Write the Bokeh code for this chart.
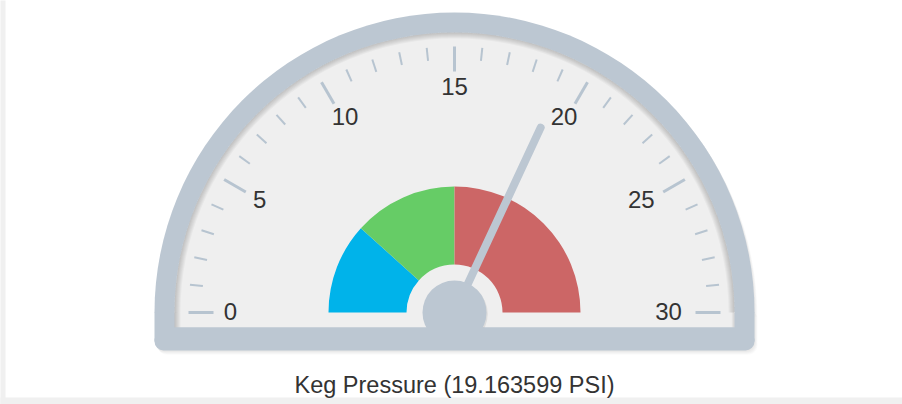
import math
import numpy as np
from bokeh.plotting import figure
from bokeh.models import Range1d
from bokeh.core.properties import value
from bokeh.embed import file_html
from bokeh.resources import INLINE

# ---- data ----
gauge_min = 0
gauge_max = 30
gauge_value = 19.163599
title_text = "Keg Pressure (19.163599 PSI)"
major_tick_values = [0, 5, 10, 15, 20, 25, 30]
major_tick_labels = ["0", "5", "10", "15", "20", "25", "30"]
minor_tick_values = [1, 2, 3, 4, 6, 7, 8, 9, 11, 12, 13, 14, 16, 17, 18, 19,
                     21, 22, 23, 24, 26, 27, 28, 29]
band_from = [0, 7, 15]
band_to = [7, 15, 30]
band_colors = ["#00b3ea", "#66cc66", "#cc6666"]

# ---- styles ----
RING = "#bcc7d2"
FACE = "#efefef"
TICK = "#b7c4d0"
TXT = "#333333"
FONT = "Liberation Sans"


def ang(v):
    return math.pi - (v - gauge_min) / (gauge_max - gauge_min) * math.pi


W, H = 902, 404
p = figure(width=W, height=H, output_backend="svg", toolbar_location=None,
           x_range=Range1d(-454, 448), y_range=Range1d(-92, 312),
           x_axis_type=None, y_axis_type=None, min_border=0,
           background_fill_color="white", border_fill_color="white")
p.outline_line_color = None
p.grid.visible = False

R_OUT, R_IN = 300, 280
BOT = -38


def body_shape(dx, dy, color, alpha, overlap):
    p.wedge(x=dx, y=dy, radius=R_OUT, start_angle=0, end_angle=math.pi,
            fill_color=color, fill_alpha=alpha, line_color=None)
    # straight sides, then a rounded bottom strip
    p.quad(left=-R_OUT + dx, right=R_OUT + dx, bottom=BOT + 12 - overlap + dy, top=dy + 0.5,
           fill_color=color, fill_alpha=alpha, line_color=None)
    p.quad(left=-R_OUT + dx, right=R_OUT + dx, bottom=BOT + dy, top=BOT + 12 + dy,
           fill_color=color, fill_alpha=alpha, line_color=None, border_radius=(0, 0, 9, 9))


# page strips
p.quad(left=-460, right=-449, bottom=-100, top=320, fill_color="#f0f0f0", line_color=None)
p.quad(left=-460, right=460, bottom=-100, top=-85, fill_color="#f0f0f0", line_color=None)

# drop shadow of the body (soft, to the lower right)
for k in range(1, 7):
    body_shape(0.5 * k, -0.7 * k, "black", 0.016, 0)

# body
body_shape(0, 0, RING, 1.0, 3)

# face
p.wedge(x=0, y=0, radius=R_IN, start_angle=0, end_angle=math.pi,
        fill_color=FACE, line_color=None)
p.quad(left=-R_IN, right=R_IN, bottom=-15, top=0.5, fill_color=FACE, line_color=None)

# inner shadow on face
for k in range(1, 7):
    p.annular_wedge(x=0, y=0, inner_radius=R_IN - k, outer_radius=R_IN,
                    start_angle=0, end_angle=math.pi,
                    fill_color="black", fill_alpha=0.03, line_color=None)
    p.quad(left=-R_IN, right=-R_IN + k, bottom=-15, top=0,
           fill_color="black", fill_alpha=0.03, line_color=None)
    p.quad(left=R_IN - k * 0.5, right=R_IN, bottom=-15, top=0,
           fill_color="black", fill_alpha=0.02, line_color=None)

# bands
p.annular_wedge(x=0, y=0, inner_radius=48, outer_radius=126,
                start_angle=[ang(b) for b in band_to],
                end_angle=[ang(a) for a in band_from],
                fill_color=band_colors, line_color=None)

# ticks
maj_a = np.array([ang(v) for v in major_tick_values])
min_a = np.array([ang(v) for v in minor_tick_values])
p.segment(x0=241 * np.cos(maj_a), y0=241 * np.sin(maj_a),
          x1=266 * np.cos(maj_a), y1=266 * np.sin(maj_a),
          line_color=TICK, line_width=3)
p.segment(x0=253 * np.cos(min_a), y0=253 * np.sin(min_a),
          x1=266 * np.cos(min_a), y1=266 * np.sin(min_a),
          line_color=TICK, line_width=2)

# tick labels
lab_dx = [1, 0, 3, 0, -3, -8, -11]
p.text(x=225 * np.cos(maj_a) + np.array(lab_dx), y=225 * np.sin(maj_a) + 1,
       text=major_tick_labels, text_align="center", text_baseline="middle",
       text_font=value(FONT), text_font_size="24px", text_color=TXT)

# needle
na = ang(gauge_value)
p.segment(x0=0, y0=0, x1=204 * math.cos(na), y1=204 * math.sin(na),
          line_color=RING, line_width=8, line_cap="round")

# pivot with light shadow
p.circle(x=1.2, y=-1.5, radius=32, fill_color="black", fill_alpha=0.08, line_color=None)
p.circle(x=0, y=0, radius=32, fill_color=RING, line_color=None)
# cover lower part of pivot by bottom band colour
p.quad(left=-R_IN, right=R_IN, bottom=BOT + 2, top=-15, fill_color=RING, line_color=None)

# title
p.text(x=[0], y=[-72], text=[title_text], text_align="center",
       text_baseline="alphabetic", text_font=value(FONT),
       text_font_size="23.5px", text_color=TXT)

open("out.html", "w").write(file_html(p, INLINE))
